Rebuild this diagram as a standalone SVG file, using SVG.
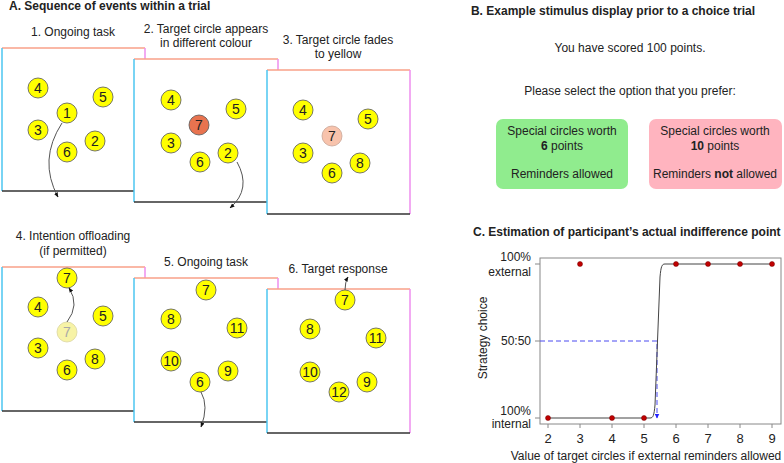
<svg xmlns="http://www.w3.org/2000/svg" width="784" height="463" viewBox="0 0 784 463">
<defs>
<style>
text{font-family:"Liberation Sans",Arial,sans-serif;fill:#222}
.t{font-size:12px}
.b{font-size:12px;font-weight:bold}
.c{text-anchor:middle}
.fr{fill:#fff;stroke:none}
.top{stroke:#F9A088;stroke-width:1.5}
.lft{stroke:#4CC6F0;stroke-width:1.5}
.rgt{stroke:#EE8EEE;stroke-width:1.5}
.bot{stroke:#333;stroke-width:1.5}
.y circle{fill:#FFFF00;stroke:#555;stroke-width:0.8}
.n{font-size:14px;text-anchor:middle}
.arr{fill:none;stroke:#555;stroke-width:1;marker-end:url(#ah)}
.dot{fill:#C00000;stroke:#700;stroke-width:0.5}
.ax{stroke:#888;stroke-width:1;fill:none}
</style>
<marker id="ah" viewBox="0 0 10 10" refX="9" refY="5" markerWidth="5" markerHeight="5" orient="auto">
<path d="M0,1 L10,5 L0,9 Z" fill="#111"/>
</marker>
<marker id="bh" viewBox="0 0 10 10" refX="9" refY="5" markerWidth="5" markerHeight="5" orient="auto">
<path d="M0,0 L10,5 L0,10 Z" fill="#2222FF"/>
</marker>
</defs>
<rect width="784" height="463" fill="#fff"/>

<!-- Panel A -->
<text class="b" x="9" y="10">A. Sequence of events within a trial</text>

<g id="frame1">
<text class="t c" x="73" y="36">1. Ongoing task</text>
<rect class="fr" x="2" y="48" width="143" height="143"/>
<line class="top" x1="2" y1="48" x2="145" y2="48"/>
<line class="lft" x1="2" y1="48" x2="2" y2="191"/>
<line class="rgt" x1="145" y1="48" x2="145" y2="191"/>
<line class="bot" x1="2" y1="191" x2="145" y2="191"/>
<g class="y">
<circle cx="38" cy="88" r="10"/><circle cx="103" cy="97" r="10"/><circle cx="67" cy="113" r="10"/>
<circle cx="38" cy="130" r="10"/><circle cx="95" cy="141" r="10"/><circle cx="67" cy="152" r="10"/>
</g>
<text class="n" x="38" y="93">4</text><text class="n" x="103" y="102">5</text><text class="n" x="67" y="118">1</text>
<text class="n" x="38" y="135">3</text><text class="n" x="95" y="146">2</text><text class="n" x="67" y="157">6</text>
</g>

<g id="frame2">
<text class="t c" x="206" y="33">2. Target circle appears</text>
<text class="t c" x="206" y="47">in different colour</text>
<rect class="fr" x="134" y="59" width="144" height="143"/>
<line class="top" x1="134" y1="59" x2="278" y2="59"/>
<line class="lft" x1="134" y1="59" x2="134" y2="202"/>
<line class="rgt" x1="278" y1="59" x2="278" y2="202"/>
<line class="bot" x1="134" y1="202" x2="278" y2="202"/>
<g class="y">
<circle cx="171" cy="100" r="10"/><circle cx="236" cy="109" r="10"/>
<circle cx="171" cy="143" r="10"/><circle cx="228" cy="153" r="10"/><circle cx="200" cy="162" r="10"/>
</g>
<circle cx="199" cy="125" r="10" fill="#E8734F" stroke="#555" stroke-width="0.8"/>
<text class="n" x="171" y="105">4</text><text class="n" x="236" y="114">5</text><text class="n" x="199" y="130">7</text>
<text class="n" x="171" y="148">3</text><text class="n" x="228" y="158">2</text><text class="n" x="200" y="167">6</text>
</g>

<g id="frame3">
<text class="t c" x="338" y="44">3. Target circle fades</text>
<text class="t c" x="338" y="58">to yellow</text>
<rect class="fr" x="267" y="70" width="143" height="144"/>
<line class="top" x1="267" y1="70" x2="410" y2="70"/>
<line class="lft" x1="267" y1="70" x2="267" y2="214"/>
<line class="rgt" x1="410" y1="70" x2="410" y2="214"/>
<line class="bot" x1="267" y1="214" x2="410" y2="214"/>
<g class="y">
<circle cx="303" cy="110" r="10"/><circle cx="368" cy="119" r="10"/>
<circle cx="303" cy="153" r="10"/><circle cx="360" cy="163" r="10"/><circle cx="332" cy="173" r="10"/>
</g>
<circle cx="332" cy="136" r="10" fill="#F8C3AC" stroke="#C9A595" stroke-width="0.8"/>
<text class="n" x="303" y="115">4</text><text class="n" x="368" y="124">5</text><text class="n" x="332" y="141">7</text>
<text class="n" x="303" y="158">3</text><text class="n" x="360" y="168">8</text><text class="n" x="332" y="178">6</text>
</g>

<g id="frame4">
<text class="t c" x="73" y="240">4. Intention offloading</text>
<text class="t c" x="73" y="255">(if permitted)</text>
<rect class="fr" x="2" y="267" width="143" height="144"/>
<line class="top" x1="2" y1="267" x2="145" y2="267"/>
<line class="lft" x1="2" y1="267" x2="2" y2="411"/>
<line class="rgt" x1="145" y1="267" x2="145" y2="411"/>
<line class="bot" x1="2" y1="411" x2="145" y2="411"/>
<g class="y">
<circle cx="67" cy="278" r="10"/><circle cx="38" cy="307" r="10"/><circle cx="103" cy="316" r="10"/>
<circle cx="38" cy="348" r="10"/><circle cx="95" cy="359" r="10"/><circle cx="67" cy="370" r="10"/>
</g>
<circle cx="67" cy="332" r="10" fill="#F7F3A6" stroke="#DAD6A0" stroke-width="0.8"/>
<text class="n" x="67" y="283">7</text><text class="n" x="38" y="312">4</text><text class="n" x="103" y="321">5</text>
<text class="n" x="67" y="337" style="fill:#A8A8A8">7</text>
<text class="n" x="38" y="353">3</text><text class="n" x="95" y="364">8</text><text class="n" x="67" y="375">6</text>
</g>

<g id="frame5">
<text class="t c" x="206" y="266">5. Ongoing task</text>
<rect class="fr" x="134" y="278" width="144" height="144"/>
<line class="top" x1="134" y1="278" x2="278" y2="278"/>
<line class="lft" x1="134" y1="278" x2="134" y2="422"/>
<line class="rgt" x1="278" y1="278" x2="278" y2="422"/>
<line class="bot" x1="134" y1="422" x2="278" y2="422"/>
<g class="y">
<circle cx="206" cy="290" r="10"/><circle cx="171" cy="319" r="10"/><circle cx="237" cy="328" r="10"/>
<circle cx="171" cy="361" r="10"/><circle cx="228" cy="371" r="10"/><circle cx="200" cy="382" r="10"/>
</g>
<text class="n" x="206" y="295">7</text><text class="n" x="171" y="324">8</text><text class="n" x="237" y="333">11</text>
<text class="n" x="171" y="366">10</text><text class="n" x="228" y="376">9</text><text class="n" x="200" y="387">6</text>
</g>

<g id="frame6">
<text class="t c" x="338" y="273">6. Target response</text>
<rect class="fr" x="267" y="289" width="143" height="144"/>
<line class="top" x1="267" y1="289" x2="410" y2="289"/>
<line class="lft" x1="267" y1="289" x2="267" y2="433"/>
<line class="rgt" x1="410" y1="289" x2="410" y2="433"/>
<line class="bot" x1="267" y1="433" x2="410" y2="433"/>
<g class="y">
<circle cx="345" cy="300" r="10"/><circle cx="310" cy="329" r="10"/><circle cx="376" cy="338" r="10"/>
<circle cx="310" cy="372" r="10"/><circle cx="367" cy="382" r="10"/><circle cx="339" cy="392" r="10"/>
</g>
<text class="n" x="345" y="305">7</text><text class="n" x="310" y="334">8</text><text class="n" x="376" y="343">11</text>
<text class="n" x="310" y="377">10</text><text class="n" x="367" y="387">9</text><text class="n" x="339" y="397">12</text>
</g>

<g id="connectors">
<path class="arr" d="M62,123 Q38,160 58,197"/>
<path class="arr" d="M237,162 Q252,189 230,208"/>
<path class="arr" d="M67,322 Q80,305 69,288"/>
<path class="arr" d="M201,392 Q209,406 201,427"/>
<path class="arr" d="M345,290 Q345,282 348,277"/>
</g>

<!-- Panel B -->
<g id="panelB">
<text class="b c" x="613" y="15">B. Example stimulus display prior to a choice trial</text>
<text class="t c" x="630" y="52">You have scored 100 points.</text>
<text class="t c" x="630" y="95">Please select the option that you prefer:</text>
</g>
<g id="optionA">
<rect x="496" y="119" width="132" height="70" rx="7" fill="#90EC8E"/>
<text class="t c" x="562" y="135">Special circles worth</text>
<text class="t c" x="562" y="150"><tspan font-weight="bold">6</tspan> points</text>
<text class="t c" x="562" y="178">Reminders allowed</text>
</g>
<g id="optionB">
<rect x="649" y="119" width="133" height="70" rx="7" fill="#FFB4BF"/>
<text class="t c" x="715" y="135">Special circles worth</text>
<text class="t c" x="715" y="150"><tspan font-weight="bold">10</tspan> points</text>
<text class="t c" x="715" y="178">Reminders <tspan font-weight="bold">not</tspan> allowed</text>
</g>

<!-- Panel C -->
<g id="panelC">
<text class="b" x="473" y="236">C. Estimation of participant’s actual indifference point</text>
<rect class="ax" x="540" y="258" width="241" height="166"/>
<path class="ax" d="M535,264 H540 M535,341 H540 M535,418 H540"/>
<path class="ax" d="M548,424 V428 M580,424 V428 M612,424 V428 M644,424 V428 M676,424 V428 M708,424 V428 M740,424 V428 M772,424 V428"/>
<g class="t" style="text-anchor:end">
<text x="531" y="261">100%</text>
<text x="531" y="276">external</text>
<text x="531" y="345">50:50</text>
<text x="531" y="415">100%</text>
<text x="531" y="428">internal</text>
</g>
<g class="t c" style="font-size:13px">
<text x="548" y="443">2</text><text x="580" y="443">3</text><text x="612" y="443">4</text><text x="644" y="443">5</text>
<text x="676" y="443">6</text><text x="708" y="443">7</text><text x="740" y="443">8</text><text x="772" y="443">9</text>
</g>
<text class="t c" x="646" y="460">Value of target circles if external reminders allowed</text>
<text class="t c" transform="translate(487,338) rotate(-90)">Strategy choice</text>
<path d="M540,341 H657 V418" fill="none" stroke="#4A4AF0" stroke-width="1" stroke-dasharray="5,3" marker-end="url(#bh)"/>
<path d="M548,418 L650,418 C653,418 654,416 655,405 L660,277 C661,266 662,264 665,264 L772,264" fill="none" stroke="#444" stroke-width="1"/>
<circle class="dot" cx="548" cy="418" r="2.5"/><circle class="dot" cx="580" cy="264" r="2.5"/>
<circle class="dot" cx="612" cy="418" r="2.5"/><circle class="dot" cx="644" cy="418" r="2.5"/>
<circle class="dot" cx="676" cy="264" r="2.5"/><circle class="dot" cx="708" cy="264" r="2.5"/>
<circle class="dot" cx="740" cy="264" r="2.5"/><circle class="dot" cx="772" cy="264" r="2.5"/>
</g>
</svg>
